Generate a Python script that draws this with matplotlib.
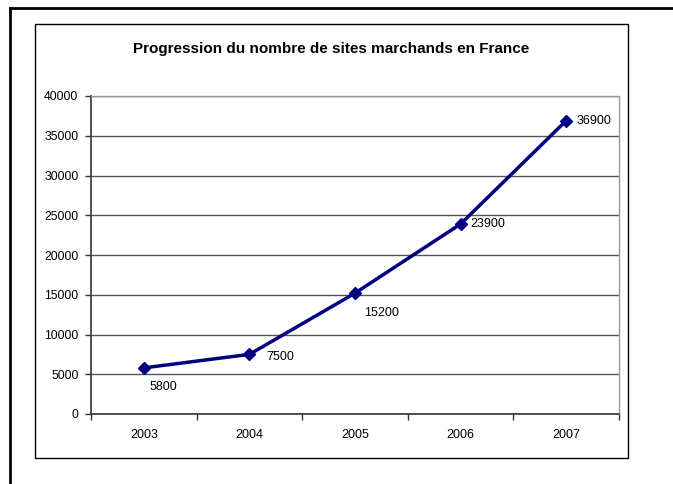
import matplotlib
matplotlib.use("Agg")
import matplotlib.pyplot as plt
from matplotlib.lines import Line2D
from matplotlib.patches import Rectangle

plt.rcParams['font.family'] = ['Liberation Sans', 'DejaVu Sans']

# data
years = ['2003', '2004', '2005', '2006', '2007']
sites = [5800, 7500, 15200, 23900, 36900]
yticks = [0, 5000, 10000, 15000, 20000, 25000, 30000, 35000, 40000]

# label offsets in pixels (dx, dy)
label_offsets = [(6, -19), (17, -3), (9, -20), (10, 0), (10, 0)]

W, H = 673, 484
fig = plt.figure(figsize=(W / 100, H / 100), dpi=100)
fig.patch.set_facecolor('white')

def fx(px):
    return px / W

def fy(py):
    return 1 - py / H

# outer frame (top and left only)
fig.add_artist(Line2D([fx(10), fx(673)], [fy(8), fy(8)], color='black', lw=2.0))
fig.add_artist(Line2D([fx(10), fx(10)], [fy(8), fy(484)], color='black', lw=2.0))

# chart area box
fig.add_artist(Rectangle((fx(35), fy(458)), fx(628) - fx(35), fy(24) - fy(458),
                         fill=False, edgecolor='black', lw=1.0))

ax = fig.add_axes([fx(91), fy(414), fx(619) - fx(91), fy(96) - fy(414)])

x = list(range(len(years)))
ax.plot(x, sites, color='#000080', lw=2.5, marker='D', markersize=6.5, zorder=3)

for xi, v, (dx, dy) in zip(x, sites, label_offsets):
    ax.annotate(str(v), (xi, v), xytext=(dx, dy), textcoords='offset pixels',
                ha='left', va='center', fontsize=9, color='black')

ax.set_xlim(-0.5, len(years) - 0.5)
ax.set_ylim(0, 40000)
ax.set_yticks(yticks)
ax.set_yticklabels([str(t) for t in yticks])
ax.set_xticks([i - 0.5 for i in range(len(years) + 1)])
ax.set_xticklabels([])
ax.set_xticks(x, minor=True)
ax.set_xticklabels(years, minor=True)
ax.tick_params(axis='x', which='minor', length=0, pad=11, labelsize=9)
ax.tick_params(axis='x', which='major', length=4, width=1, color='#333333', direction='out')
ax.tick_params(axis='y', length=4, width=1, color='#333333', direction='out', pad=5, labelsize=8.8)

ax.grid(axis='y', color='#555555', lw=1.0)
ax.set_axisbelow(True)
for side in ['left', 'bottom']:
    ax.spines[side].set_color('#333333')
    ax.spines[side].set_linewidth(1.2)
for side in ['top', 'right']:
    ax.spines[side].set_color('#999999')
    ax.spines[side].set_linewidth(1.0)

fig.text(fx(331), fy(49), 'Progression du nombre de sites marchands en France',
         ha='center', va='center', fontsize=11, fontweight='bold')

fig.savefig('out.png', dpi=100)
